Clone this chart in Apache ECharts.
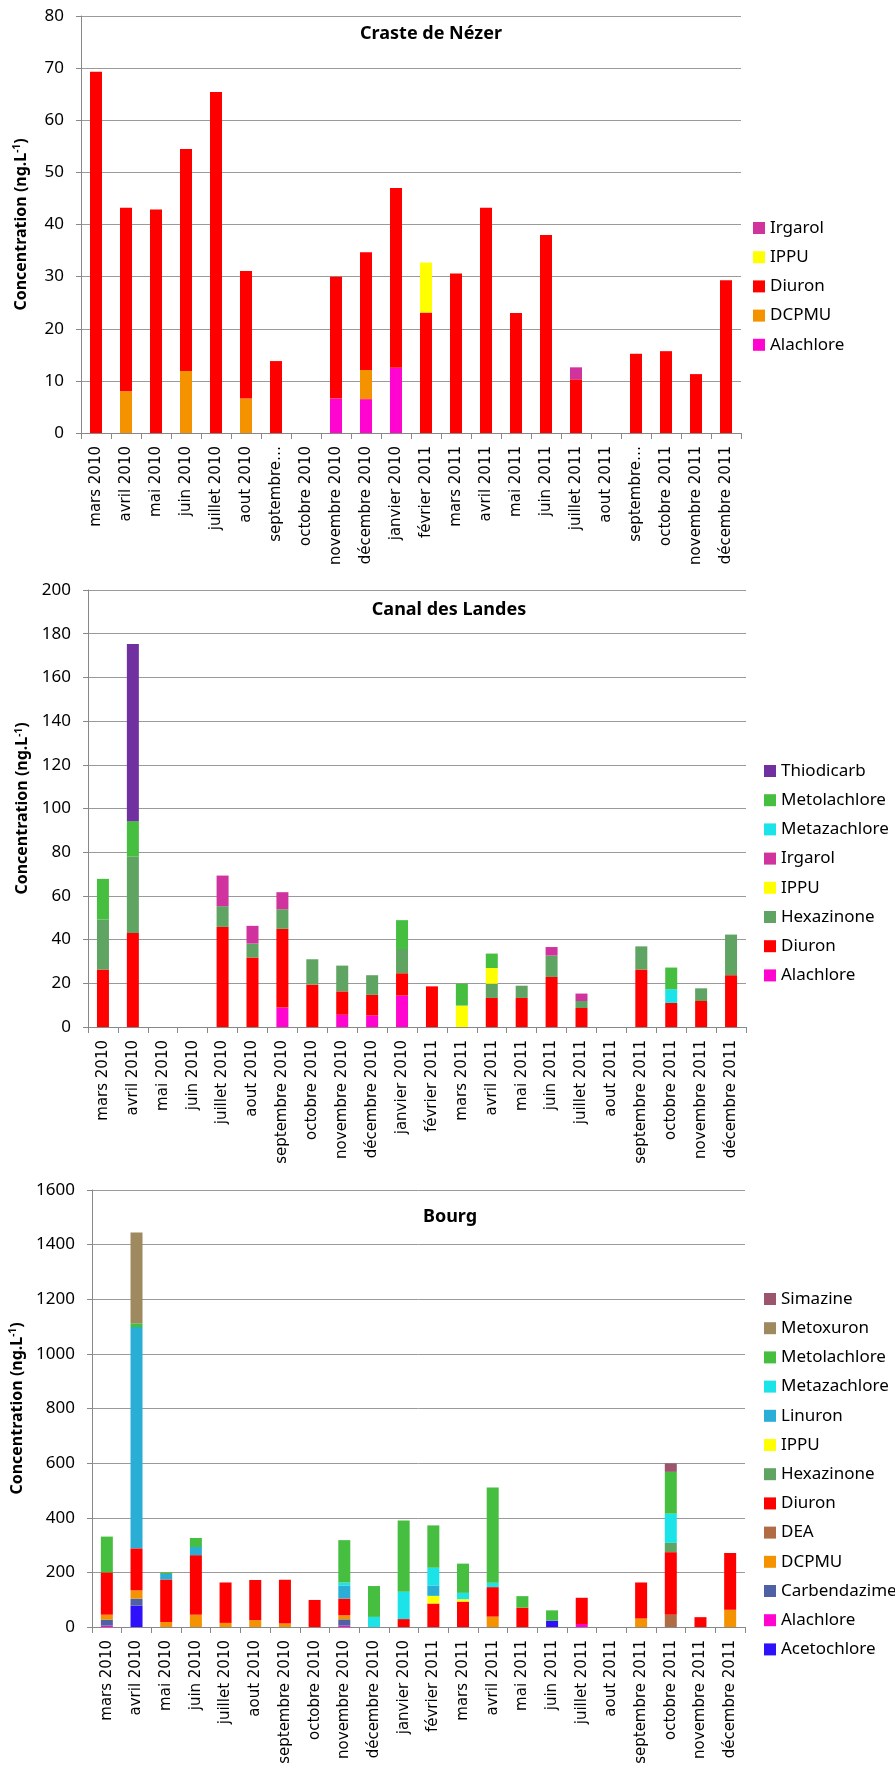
<!DOCTYPE html>
<html>
<head>
<meta charset="utf-8">
<script src="https://cdn.jsdelivr.net/npm/echarts@6/dist/echarts.min.js"></script>
<style>
html,body{margin:0;padding:0;background:#fff;}
#c{width:895px;height:1771px;}
</style>
</head>
<body>
<div id="c"></div>
<script>
// ---------- categories ----------
const monthsNezer = ['mars 2010','avril 2010','mai 2010','juin 2010','juillet 2010','aout 2010','septembre…','octobre 2010','novembre 2010','décembre 2010','janvier 2010','février 2011','mars 2011','avril 2011','mai 2011','juin 2011','juillet 2011','aout 2011','septembre…','octobre 2011','novembre 2011','décembre 2011'];
const months = ['mars 2010','avril 2010','mai 2010','juin 2010','juillet 2010','aout 2010','septembre 2010','octobre 2010','novembre 2010','décembre 2010','janvier 2010','février 2011','mars 2011','avril 2011','mai 2011','juin 2011','juillet 2011','aout 2011','septembre 2011','octobre 2011','novembre 2011','décembre 2011'];

// ---------- Craste de Nézer ----------
const nezerAlachlore = [0,0,0,0,0,0,0,0,6.6,6.5,12.5,0,0,0,0,0,0,0,0,0,0,0];
const nezerDCPMU     = [0,8.0,0,11.9,0,6.6,0,0,0,5.6,0,0,0,0,0,0,0,0,0,0,0,0];
const nezerDiuron    = [69.3,35.2,42.9,42.6,65.4,24.5,13.8,0,23.4,22.6,34.5,23.1,30.6,43.2,23.0,38.0,10.3,0,15.2,15.7,11.3,29.3];
const nezerIPPU      = [0,0,0,0,0,0,0,0,0,0,0,9.6,0,0,0,0,0,0,0,0,0,0];
const nezerIrgarol   = [0,0,0,0,0,0,0,0,0,0,0,0,0,0,0,0,2.3,0,0,0,0,0];

// ---------- Canal des Landes ----------
const canalAlachlore    = [0,0,0,0,0,0,8.9,0,5.6,5.3,14.4,0,0,0,0,0,0,0,0,0,0,0];
const canalDiuron       = [26.3,43.0,0,0,45.8,31.8,36.0,19.4,10.7,9.4,10.2,18.6,0,13.3,13.3,22.9,8.7,0,26.3,11.0,11.9,23.7];
const canalHexazinone   = [22.9,35.0,0,0,9.5,6.4,9.0,11.6,11.8,9.0,11.1,0,0,6.5,5.6,9.8,3.2,0,10.6,0,5.8,18.6];
const canalIPPU         = [0,0,0,0,0,0,0,0,0,0,0,0,9.8,7.2,0,0,0,0,0,0,0,0];
const canalIrgarol      = [0,0,0,0,14.0,8.1,7.8,0,0,0,0,0,0,0,0,3.9,3.4,0,0,0,0,0];
const canalMetazachlore = [0,0,0,0,0,0,0,0,0,0,0,0,0,0,0,0,0,0,0,6.3,0,0];
const canalMetolachlore = [18.6,16.2,0,0,0,0,0,0,0,0,13.2,0,10.0,6.6,0,0,0,0,0,9.9,0,0];
const canalThiodicarb   = [0,81.1,0,0,0,0,0,0,0,0,0,0,0,0,0,0,0,0,0,0,0,0];

// ---------- Bourg ----------
const bourgAcetochlore  = [0,78,0,0,0,0,0,0,0,0,0,0,0,0,0,23,0,0,0,0,0,0];
const bourgAlachlore    = [5,0,0,0,0,0,0,0,5,0,0,0,0,0,0,0,11,0,0,0,0,0];
const bourgCarbendazime = [22,26,0,0,0,0,0,0,23,0,0,0,0,0,0,0,0,0,0,0,0,0];
const bourgDCPMU        = [18,30,18,45,15,25,13,0,15,0,0,0,0,38,0,0,0,0,31,0,0,63];
const bourgDEA          = [0,0,0,0,0,0,0,0,0,0,0,0,0,0,0,0,0,0,0,45,0,0];
const bourgDiuron       = [155,154,156,218,148,147,160,99,61,0,29,86,93,108,71,0,96,0,132,229,36,208];
const bourgHexazinone   = [0,0,0,0,0,0,0,0,0,0,0,0,0,0,0,0,0,0,0,34,0,0];
const bourgIPPU         = [0,0,0,0,0,0,0,0,0,0,0,28,9,0,0,0,0,0,0,0,0,0];
const bourgLinuron      = [0,810,20,30,0,0,0,0,48,0,0,38,0,0,0,0,0,0,0,0,0,0];
const bourgMetazachlore = [0,0,0,0,0,0,0,0,11,37,100,65,23,16,0,0,0,0,0,107,0,0];
const bourgMetolachlore = [131,14,5,33,0,0,0,0,155,113,261,155,107,349,42,38,0,0,0,153,0,0];
const bourgMetoxuron    = [0,332,0,0,0,0,0,0,0,0,0,0,0,0,0,0,0,0,0,0,0,0];
const bourgSimazine     = [0,0,0,0,0,0,0,0,0,0,0,0,0,0,0,0,0,0,0,31,0,0];

// ---------- axis ticks ----------
const yNezer = {max: 80, interval: 10};
const yCanal = {max: 200, interval: 20};
const yBourg = {max: 1600, interval: 200};

const colors = {
  Alachlore:'#FF05CF', DCPMU:'#F59200', Diuron:'#FF0000', IPPU:'#FFFF00', Irgarol:'#D1339E',
  Thiodicarb:'#7030A0', Metolachlore:'#46BE40', Metazachlore:'#1BE3E8', Hexazinone:'#5FA462',
  Linuron:'#2AAED6', Metoxuron:'#9E8A5E', Simazine:'#9B566E', DEA:'#B06C45',
  Carbendazime:'#5060A5', Acetochlore:'#2F10FA'
};

const grids = [
  {left: 81, top: 16, width: 660, height: 417},
  {left: 88, top: 590, width: 658, height: 437},
  {left: 92, top: 1190, width: 653, height: 437}
];

function xAx(i, data){
  return {
    type:'category', gridIndex:i, data:data,
    axisLine:{show:true, lineStyle:{color:'#888', width:1}},
    axisTick:{show:true, length:6, alignWithLabel:false, lineStyle:{color:'#888'}},
    axisLabel:{rotate:90, interval:0, margin:13, fontFamily:'DejaVu Sans', fontSize:15, color:'#000'},
    splitLine:{show:false}
  };
}
function yAx(i, cfg, gap){
  return {
    type:'value', gridIndex:i, min:0, max:cfg.max, interval:cfg.interval,
    axisLine:{show:true, lineStyle:{color:'#888'}},
    axisTick:{show:true, length:5, lineStyle:{color:'#888'}},
    axisLabel:{margin:17, fontFamily:'Noto Sans', fontSize:17, color:'#000', formatter:function(v){return String(v);}},
    splitLine:{show:true, lineStyle:{color:'#9a9a9a', width:1}},
    name:'{a|Concentration (ng.L}{s|-1}{a|)}',
    nameLocation:'middle', nameRotate:90, nameGap:gap,
    nameTextStyle:{
      rich:{
        a:{fontFamily:'Noto Sans', fontWeight:'bold', fontSize:16, color:'#000'},
        s:{fontFamily:'Noto Sans', fontWeight:'bold', fontSize:10, color:'#000', padding:[0,0,8,0]}
      }
    }
  };
}
function ser(name, data, gi, stack){
  return {
    name:name, type:'bar', stack:stack, xAxisIndex:gi, yAxisIndex:gi,
    data:data, barWidth:12, itemStyle:{color:colors[name]},
    emphasis:{disabled:true}
  };
}
function leg(left, top, names){
  return {
    orient:'vertical', left:left, top:top, data:names, icon:'rect',
    itemWidth:12, itemHeight:12, itemGap:9.2, padding:0,
    textStyle:{fontFamily:'Noto Sans', fontSize:17, color:'#000', lineHeight:20},
    selectedMode:true
  };
}
function ttl(text, x, top){
  return {
    text:text, left:x, top:top, textAlign:'center', padding:0,
    textStyle:{fontFamily:'Noto Sans', fontWeight:'bold', fontSize:18, color:'#000', lineHeight:24}
  };
}

const series = [
  ser('Alachlore', nezerAlachlore, 0, 'n'),
  ser('DCPMU', nezerDCPMU, 0, 'n'),
  ser('Diuron', nezerDiuron, 0, 'n'),
  ser('IPPU', nezerIPPU, 0, 'n'),
  ser('Irgarol', nezerIrgarol, 0, 'n'),

  ser('Alachlore', canalAlachlore, 1, 'c'),
  ser('Diuron', canalDiuron, 1, 'c'),
  ser('Hexazinone', canalHexazinone, 1, 'c'),
  ser('IPPU', canalIPPU, 1, 'c'),
  ser('Irgarol', canalIrgarol, 1, 'c'),
  ser('Metazachlore', canalMetazachlore, 1, 'c'),
  ser('Metolachlore', canalMetolachlore, 1, 'c'),
  ser('Thiodicarb', canalThiodicarb, 1, 'c'),

  ser('Acetochlore', bourgAcetochlore, 2, 'b'),
  ser('Alachlore', bourgAlachlore, 2, 'b'),
  ser('Carbendazime', bourgCarbendazime, 2, 'b'),
  ser('DCPMU', bourgDCPMU, 2, 'b'),
  ser('DEA', bourgDEA, 2, 'b'),
  ser('Diuron', bourgDiuron, 2, 'b'),
  ser('Hexazinone', bourgHexazinone, 2, 'b'),
  ser('IPPU', bourgIPPU, 2, 'b'),
  ser('Linuron', bourgLinuron, 2, 'b'),
  ser('Metazachlore', bourgMetazachlore, 2, 'b'),
  ser('Metolachlore', bourgMetolachlore, 2, 'b'),
  ser('Metoxuron', bourgMetoxuron, 2, 'b'),
  ser('Simazine', bourgSimazine, 2, 'b')
];

const chart = echarts.init(document.getElementById('c'), null, {renderer:'canvas'});
chart.setOption({
  animation:false,
  backgroundColor:'#fff',
  title:[
    ttl('Craste de Nézer', 431, 22),
    ttl('Canal des Landes', 449, 598),
    ttl('Bourg', 450, 1205)
  ],
  legend:[
    leg(753, 218, ['Irgarol','IPPU','Diuron','DCPMU','Alachlore']),
    leg(764, 761, ['Thiodicarb','Metolachlore','Metazachlore','Irgarol','IPPU','Hexazinone','Diuron','Alachlore']),
    leg(764, 1289, ['Simazine','Metoxuron','Metolachlore','Metazachlore','Linuron','IPPU','Hexazinone','Diuron','DEA','DCPMU','Carbendazime','Alachlore','Acetochlore'])
  ],
  grid: grids,
  xAxis:[xAx(0, monthsNezer), xAx(1, months), xAx(2, months)],
  yAxis:[yAx(0, yNezer, 51), yAx(1, yCanal, 54), yAx(2, yBourg, 63)],
  series: series
});
</script>
</body>
</html>
